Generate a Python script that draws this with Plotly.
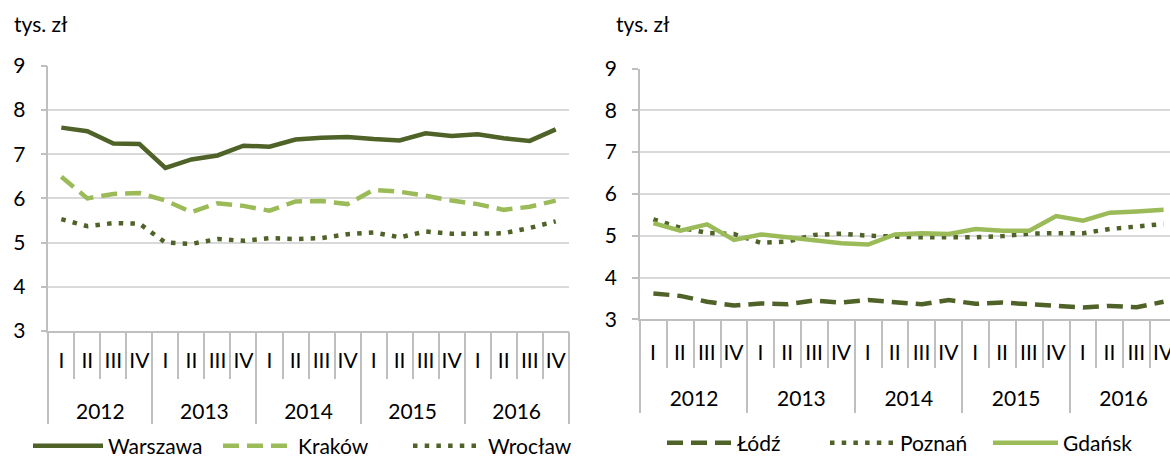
import plotly.graph_objects as go

# dane kwartalne, tys. zł
years = [2012, 2013, 2014, 2015, 2016]
quarters = ["I", "II", "III", "IV"]

warszawa = [7.60, 7.52, 7.24, 7.23, 6.69, 6.88, 6.97, 7.19, 7.17, 7.33,
            7.37, 7.39, 7.34, 7.31, 7.47, 7.41, 7.45, 7.36, 7.30, 7.56]
krakow = [6.49, 6.00, 6.10, 6.12, 5.95, 5.69, 5.89, 5.83, 5.72, 5.93,
          5.94, 5.87, 6.19, 6.15, 6.06, 5.95, 5.87, 5.74, 5.81, 5.95]
wroclaw = [5.53, 5.37, 5.44, 5.43, 5.00, 4.97, 5.08, 5.04, 5.10, 5.08,
           5.10, 5.19, 5.23, 5.12, 5.25, 5.20, 5.20, 5.21, 5.33, 5.48]
lodz = [3.62, 3.56, 3.42, 3.33, 3.38, 3.36, 3.45, 3.40, 3.46, 3.41,
        3.36, 3.46, 3.37, 3.40, 3.36, 3.32, 3.28, 3.32, 3.29, 3.42]
poznan = [5.39, 5.19, 5.07, 5.04, 4.83, 4.86, 5.02, 5.05, 5.00, 4.97,
          4.96, 4.96, 4.96, 4.99, 5.05, 5.06, 5.06, 5.16, 5.23, 5.28]
gdansk = [5.30, 5.12, 5.27, 4.90, 5.03, 4.96, 4.90, 4.82, 4.79, 5.03,
          5.06, 5.04, 5.16, 5.12, 5.12, 5.47, 5.36, 5.55, 5.58, 5.62]

DARK = "#4F6228"
LIGHT = "#9BBB59"
GRID = "#D9D9D9"
AXIS = "#BFBFBF"
FONT = "Lato, Open Sans, sans-serif"
FS = 21

n = len(years) * len(quarters)
x = list(range(n))  # pozycja kwartału na osi

fig = go.Figure()

left = [("Warszawa", warszawa, DARK, "solid"),
        ("Kraków", krakow, LIGHT, "16px,8px"),
        ("Wrocław", wroclaw, DARK, "4.5px,7.2px")]
right = [("Łódź", lodz, DARK, "16px,8px"),
         ("Poznań", poznan, DARK, "4.5px,7.2px"),
         ("Gdańsk", gdansk, LIGHT, "solid")]

for name, vals, color, dash in left:
    fig.add_trace(go.Scatter(x=x, y=vals, name=name, mode="lines",
                             line=dict(color=color, width=4.5, dash=dash),
                             xaxis="x", yaxis="y", legend="legend"))
for name, vals, color, dash in right:
    fig.add_trace(go.Scatter(x=x, y=vals, name=name, mode="lines",
                             line=dict(color=color, width=4.5, dash=dash),
                             xaxis="x2", yaxis="y2", legend="legend2"))

# niewidoczne serie, żeby osie z latami zostały narysowane
for xa, ya, vals in [("x3", "y", warszawa), ("x4", "y2", gdansk)]:
    fig.add_trace(go.Scatter(x=x, y=vals, mode="lines", opacity=0,
                             line=dict(width=0), showlegend=False,
                             hoverinfo="skip", xaxis=xa, yaxis=ya))

# granice kwartałów i lat
q_bounds = [i - 0.5 for i in range(n + 1)]
q_text = [q for _ in years for q in quarters] + [""]
y_bounds = [i * len(quarters) - 0.5 for i in range(len(years) + 1)]
y_text = [str(y) for y in years] + [""]


def quarter_axis(domain, rng, shift, tlen, standoff):
    return dict(domain=domain, range=rng, tickmode="array", tickvals=q_bounds,
                ticktext=q_text, ticks="outside", ticklen=tlen, tickwidth=1.5,
                tickcolor=AXIS, ticklabelshift=shift,
                ticklabelstandoff=standoff, ticklabeloverflow="allow",
                showline=True, linecolor=AXIS, linewidth=1.5, showgrid=False,
                zeroline=False, tickfont=dict(size=FS, color="black"))


def year_axis(over, anchor, rng, shift, tlen, standoff):
    return dict(overlaying=over, anchor=anchor, range=rng, tickmode="array",
                tickvals=y_bounds, ticktext=y_text, ticks="outside",
                ticklen=tlen, tickwidth=1.5, tickcolor=AXIS,
                ticklabelshift=shift, ticklabelstandoff=standoff,
                ticklabeloverflow="allow", showline=False, showgrid=False,
                zeroline=False, tickfont=dict(size=FS, color="black"))


def value_axis(domain, anchor):
    return dict(domain=domain, anchor=anchor, range=[3, 9], dtick=1,
                showgrid=True, gridcolor=GRID, gridwidth=1.5, showline=True,
                linecolor=AXIS, linewidth=1.5, ticks="outside", ticklen=6,
                tickwidth=1.5, tickcolor=AXIS, ticklabelstandoff=11,
                zeroline=False, tickfont=dict(size=FS, color="black"))


r_end = 19.24
fig.update_layout(
    width=1170, height=457,
    margin=dict(l=0, r=0, t=0, b=0, autoexpand=False),
    paper_bgcolor="white", plot_bgcolor="white",
    font=dict(family=FONT, size=FS, color="black"),
    xaxis=dict(anchor="y", **quarter_axis([0.0413, 0.4861], [-0.5, 19.5],
                                          13, 46, -36)),
    yaxis=value_axis([0.2757, 0.8562], "x"),
    xaxis2=dict(anchor="y2", **quarter_axis([0.547, 1.0], [-0.5, r_end],
                                            13, 47, -33)),
    yaxis2=value_axis([0.3013, 0.8501], "x2"),
    xaxis3=year_axis("x", "y", [-0.5, 19.5], 52, 92, -30),
    xaxis4=year_axis("x2", "y2", [-0.5, r_end], 54, 93, -33),
    legend=dict(orientation="h", x=28 / 1170, y=1 - 446 / 457, xanchor="left",
                yanchor="middle", itemwidth=70, entrywidth=105,
                font=dict(size=FS), bgcolor="rgba(0,0,0,0)"),
    legend2=dict(orientation="h", x=662 / 1170, y=1 - 443 / 457,
                 xanchor="left", yanchor="middle", itemwidth=65,
                 entrywidth=83, font=dict(size=FS), bgcolor="rgba(0,0,0,0)"),
    annotations=[
        dict(text="tys. zł", x=12 / 1170, y=1 - 23 / 457, xref="paper",
             yref="paper", xanchor="left", yanchor="middle", showarrow=False,
             font=dict(size=FS)),
        dict(text="tys. zł", x=614 / 1170, y=1 - 23 / 457, xref="paper",
             yref="paper", xanchor="left", yanchor="middle", showarrow=False,
             font=dict(size=FS)),
    ],
)

# strona bez domyślnego marginesu body, bez paska narzędzi
fig.write_html("out.html", config={"displayModeBar": False},
               post_script="document.body.style.margin='0';")
